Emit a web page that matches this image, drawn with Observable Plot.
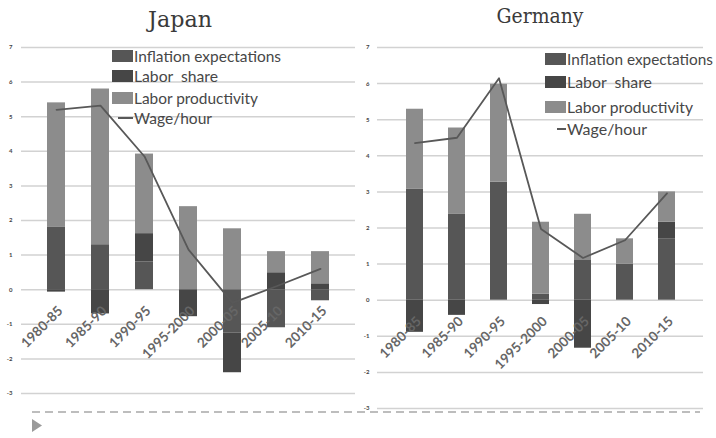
<!DOCTYPE html>
<html><head><meta charset="utf-8">
<script src="https://cdn.jsdelivr.net/npm/d3@7"></script>
<script src="https://cdn.jsdelivr.net/npm/@observablehq/plot@0.6"></script>
<style>
html,body{margin:0;padding:0;background:#fff;}
#wrap{position:relative;width:716px;height:438px;overflow:hidden;background:#fff;}
#wrap svg{position:absolute;top:0;}
</style></head><body><div id="wrap"></div>
<script>
const periods = ["1980-85","1985-90","1990-95","1995-2000","2000-05","2005-10","2010-15"];
const seriesNames = ["Inflation expectations","Labor  share","Labor productivity"];
const lineName = "Wage/hour";
const seriesColors = ["#565656","#464646","#8c8c8c"];
const japanInflation   = [1.8, 1.3, 0.8, 0, -1.25, -1.1, -0.32];
const japanLaborShare  = [-0.07, -0.7, 0.82, -0.78, -1.15, 0.49, 0.17];
const japanProductivity= [3.6, 4.5, 2.3, 2.4, 1.76, 0.61, 0.93];
const japanWage        = [5.2, 5.32, 3.85, 1.16, -0.38, 0.1, 0.6];
const germanyInflation   = [3.07, 2.39, 3.27, 0.17, 1.1, 1.0, 1.69];
const germanyLaborShare  = [-0.89, -0.42, 0, -0.12, -1.33, 0, 0.47];
const germanyProductivity= [2.22, 2.38, 2.71, 1.99, 1.28, 0.7, 0.84];
const germanyWage        = [4.35, 4.5, 6.15, 1.97, 1.17, 1.66, 2.96];
const yTicks = [-3,-2,-1,0,1,2,3,4,5,6,7];

function stackRows(infl, share, prod) {
  const rows = [];
  periods.forEach((p, i) => {
    rows.push({period: p, series: seriesNames[0], value: infl[i]});
    rows.push({period: p, series: seriesNames[1], value: share[i]});
    rows.push({period: p, series: seriesNames[2], value: prod[i]});
  });
  return rows;
}
function lineRows(w) { return periods.map((p, i) => ({period: p, value: w[i]})); }

function panel(rows, wage, opts) {
  return Plot.plot({
    width: 360, height: 438,
    marginTop: 47, marginBottom: opts.mb, marginLeft: 21, marginRight: opts.mr,
    style: {fontFamily: "Lato, 'Open Sans', sans-serif", background: "transparent", overflow: "visible"},
    x: {domain: periods, padding: opts.pad, axis: null},
    y: {domain: [-3, 7], axis: null, label: null},
    color: {domain: seriesNames, range: seriesColors},
    marks: [
      Plot.gridY(yTicks, {stroke: "#d2d2d2", strokeOpacity: 1, strokeWidth: 1.5}),
      Plot.axisY(yTicks, {tickSize: 0, tickPadding: opts.tp, fontSize: 6, fontWeight: "bold", fill: "#444", label: null, tickFormat: d => String(d)}),
      Plot.barY(rows, {x: "period", y: "value", fill: "series", order: null}),
      Plot.line(lineRows(wage), {x: "period", y: "value", stroke: "#585858", strokeWidth: 1.8}),
      Plot.text(periods, {x: d => d, y: () => 0, text: d => d, rotate: -45, textAnchor: "end",
        dx: 4, dy: 19, fontSize: 13.5, fontWeight: "bold", fill: "#666"})
    ]
  });
}

const wrap = document.getElementById("wrap");
const jp = panel(stackRows(japanInflation, japanLaborShare, japanProductivity), japanWage, {mb: 45, mr: 5, pad: 0.58, tp: 9});
jp.style.left = "0px";
wrap.appendChild(jp);
const de = panel(stackRows(germanyInflation, germanyLaborShare, germanyProductivity), germanyWage, {mb: 30, mr: 13, pad: 0.6, tp: 8});
de.style.left = "356px";
wrap.appendChild(de);

// overlay: titles, legends, footer
const ov = d3.select(wrap).append("svg").attr("width", 716).attr("height", 438).style("left", "0px");
ov.append("text").attr("x", 180).attr("y", 27).attr("text-anchor", "middle")
  .attr("font-family", "'DejaVu Serif', serif").attr("font-size", 23).attr("fill", "#3a3a3a")
  .attr("textLength", 64).attr("lengthAdjust", "spacingAndGlyphs").text("Japan");
ov.append("text").attr("x", 540).attr("y", 23).attr("text-anchor", "middle")
  .attr("font-family", "'DejaVu Serif', serif").attr("font-size", 21).attr("fill", "#3a3a3a")
  .attr("textLength", 87).attr("lengthAdjust", "spacingAndGlyphs").text("Germany");

function legend(x0, ys, lineX0, widths) {
  const g = ov.append("g").attr("font-family", "Lato, 'Open Sans', sans-serif").attr("font-size", 15).attr("fill", "#474747");
  seriesNames.forEach((name, i) => {
    g.append("rect").attr("x", x0).attr("y", ys[i] - 6).attr("width", 21).attr("height", 12).attr("fill", seriesColors[i]);
    g.append("text").attr("x", x0 + 22).attr("y", ys[i] + 5.5).style("white-space", "pre")
      .attr("textLength", widths[i]).attr("lengthAdjust", "spacingAndGlyphs").text(name);
  });
  g.append("line").attr("x1", lineX0).attr("x2", x0 + 21).attr("y1", ys[3]).attr("y2", ys[3]).attr("stroke", "#585858").attr("stroke-width", 2);
  g.append("text").attr("x", x0 + 22).attr("y", ys[3] + 5.5)
    .attr("textLength", widths[3]).attr("lengthAdjust", "spacingAndGlyphs").text(lineName);
}
legend(112, [56, 76, 98, 118], 118, [147, 84, 124, 78]);
legend(545, [59, 82, 107, 129], 557, [146, 85, 126, 80]);

ov.append("line").attr("x1", 32).attr("x2", 700).attr("y1", 412).attr("y2", 412)
  .attr("stroke", "#a8a8a8").attr("stroke-width", 1.5).attr("stroke-dasharray", "8,5");
ov.append("path").attr("d", "M32,419L32,432L42,425.5Z").attr("fill", "#9a9a9a");
</script></body></html>
